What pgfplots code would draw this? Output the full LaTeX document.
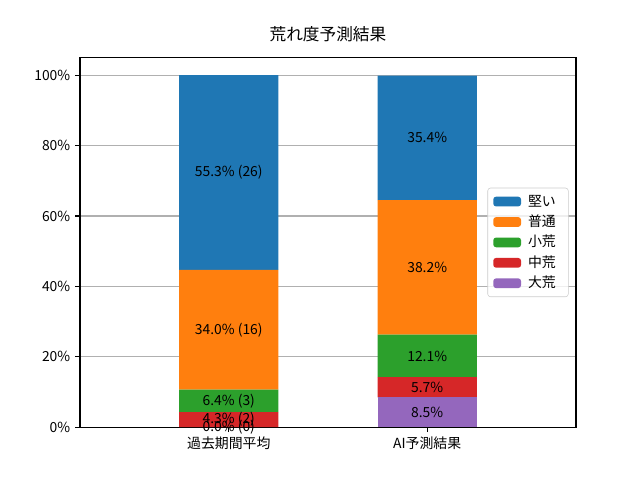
\documentclass[border=0pt]{standalone}
\usepackage{fontspec}
\setmainfont{Noto Sans CJK JP}
\usepackage{pgfplots}
\pgfplotsset{compat=1.18}
\definecolor{tabblue}{HTML}{1F77B4}
\definecolor{taborange}{HTML}{FF7F0E}
\definecolor{tabgreen}{HTML}{2CA02C}
\definecolor{tabred}{HTML}{D62728}
\definecolor{tabpurple}{HTML}{9467BD}
\pgfplotsset{
  common/.style={
    scale only axis,
    width=357.12pt, height=266.11pt,
    at={(57.6pt,38.016pt)}, anchor=south west,
    xmin=-0.75, xmax=1.75, ymin=0, ymax=105,
    font=\fontsize{10}{12}\selectfont,
  },
}
\begin{document}
\begin{tikzpicture}
\useasboundingbox (0,0) rectangle (460.8pt,345.6pt);
\begin{axis}[common,
  ybar stacked, bar width=0.5,
  axis line style={line width=0.8pt},
  tick align=outside, major tick length=3.5pt,
  xtick pos=bottom, ytick pos=left,
  tick style={line width=0.8pt, black},
  xtick={0,1}, xticklabels={過去期間平均,AI予測結果},
  ytick={0,20,40,60,80,100},
  yticklabels={0\%,20\%,40\%,60\%,80\%,100\%},
  ymajorgrids, grid style={line width=0.8pt, color=black!31},
  title={荒れ度予測結果},
  title style={font=\fontsize{12}{14}\selectfont, anchor=base, at={(0.5,1)}, yshift=6pt, inner sep=0pt},
  reverse legend,
  legend style={at={(0.985,0.5)}, anchor=east, draw=black!20, rounded corners=2pt,
    fill=white, fill opacity=0.8, text opacity=1, font=\fontsize{10}{12}\selectfont,
    row sep=1.2pt, inner xsep=4pt, inner ysep=3pt,
    nodes={inner ysep=1.5pt, inner xsep=5pt, text height=8.5pt, text depth=2pt}},
  legend cell align=left,
  legend image code/.code={\fill[#1, fill opacity=1] (0pt,-3.5pt) rectangle (20pt,3.5pt);},
]
\addplot[fill=tabpurple, draw=none] coordinates {(0,0.0) (1,8.5)};
\addplot[fill=tabred, draw=none] coordinates {(0,4.3) (1,5.7)};
\addplot[fill=tabgreen, draw=none] coordinates {(0,6.4) (1,12.1)};
\addplot[fill=taborange, draw=none] coordinates {(0,34.0) (1,38.2)};
\addplot[fill=tabblue, draw=none] coordinates {(0,55.3) (1,35.4)};
\legend{大荒,中荒,小荒,普通,堅い}
\end{axis}
\begin{axis}[common, hide axis]
\addplot[only marks, mark=none, point meta=explicit symbolic,
  nodes near coords, nodes near coords align={center},
  every node near coord/.append style={anchor=center, inner sep=0pt, font=\fontsize{10}{12}\selectfont}]
  coordinates {
  (0,0.0)[0.0\% (0)]
  (0,2.15)[4.3\% (2)]
  (0,7.5)[6.4\% (3)]
  (0,27.7)[34.0\% (16)]
  (0,72.35)[55.3\% (26)]
  (1,4.25)[8.5\%]
  (1,11.35)[5.7\%]
  (1,20.25)[12.1\%]
  (1,45.4)[38.2\%]
  (1,82.35)[35.4\%]
  };
\end{axis}
\end{tikzpicture}
\end{document}
